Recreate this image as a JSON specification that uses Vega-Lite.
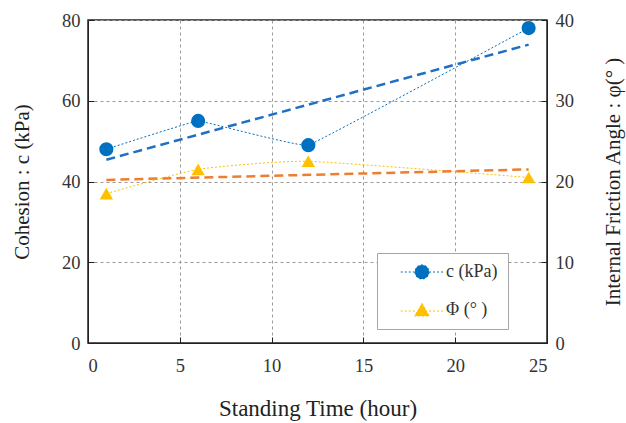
{
  "$schema": "https://vega.github.io/schema/vega-lite/v6.json",
  "width": 459,
  "height": 323,
  "autosize": {"type": "none"},
  "padding": {"left": 88, "top": 20, "right": 79, "bottom": 80},
  "background": "white",
  "config": {
    "view": {"stroke": "#222222", "strokeWidth": 1.5},
    "font": "Liberation Serif",
    "axis": {
      "labelFont": "Liberation Serif",
      "titleFont": "Liberation Serif",
      "labelFontSize": 18.5,
      "titleFontSize": 21,
      "labelColor": "#333333",
      "titleColor": "#222222",
      "titleFontWeight": "normal",
      "domainColor": "#222222",
      "tickColor": "#222222",
      "tickSize": -6,
      "gridColor": "#9a9a9a",
      "gridDash": [3, 3],
      "gridWidth": 1
    },
    "legend": {
      "labelFont": "Liberation Serif",
      "labelFontSize": 18,
      "labelColor": "#333333"
    }
  },
  "data": {
    "values": [
      {"series": "c (kPa)", "kind": "obs", "t": 1, "v": 48},
      {"series": "c (kPa)", "kind": "obs", "t": 6, "v": 55},
      {"series": "c (kPa)", "kind": "obs", "t": 12, "v": 49},
      {"series": "c (kPa)", "kind": "obs", "t": 24, "v": 78},
      {"series": "c (kPa)", "kind": "trend", "t": 1, "v": 45.4},
      {"series": "c (kPa)", "kind": "trend", "t": 24, "v": 73.9},
      {"series": "Φ (°  )", "kind": "obs", "t": 1, "v": 18.5},
      {"series": "Φ (°  )", "kind": "obs", "t": 6, "v": 21.5},
      {"series": "Φ (°  )", "kind": "obs", "t": 12, "v": 22.5},
      {"series": "Φ (°  )", "kind": "obs", "t": 24, "v": 20.5},
      {"series": "Φ (°  )", "kind": "trend", "t": 1, "v": 20.2},
      {"series": "Φ (°  )", "kind": "trend", "t": 24, "v": 21.5}
    ]
  },
  "encoding": {
    "x": {
      "field": "t",
      "type": "quantitative",
      "scale": {"domain": [0, 25], "nice": false},
      "axis": {
        "title": "Standing Time (hour)",
        "titleFontSize": 23,
        "values": [0, 5, 10, 15, 20, 25],
        "labelPadding": 19,
        "titlePadding": 23,
        "grid": true
      }
    }
  },
  "layer": [
    {
      "transform": [{"filter": "datum.series === 'c (kPa)'"}],
      "encoding": {
        "y": {
          "field": "v",
          "type": "quantitative",
          "scale": {"domain": [0, 80], "nice": false},
          "axis": {
            "title": "Cohesion : c (kPa)",
            "values": [0, 20, 40, 60, 80],
            "labelPadding": 14,
            "titlePadding": 29,
            "grid": true,
            "orient": "left"
          }
        }
      },
      "layer": [
        {
          "transform": [{"filter": "datum.kind === 'obs'"}],
          "mark": {"type": "line", "interpolate": "cardinal", "tension": 0.85, "color": "#0070C0", "strokeWidth": 1, "strokeDash": [2, 2]}
        },
        {
          "transform": [{"filter": "datum.kind === 'trend'"}],
          "mark": {"type": "line", "color": "#1F6FC5", "strokeWidth": 2.5, "strokeDash": [9, 5]}
        },
        {
          "transform": [{"filter": "datum.kind === 'obs'"}],
          "mark": {"type": "point", "shape": "circle", "filled": true, "size": 200, "opacity": 1},
          "encoding": {
            "color": {
              "field": "series",
              "type": "nominal",
              "scale": {"domain": ["c (kPa)", "Φ (°  )"], "range": ["#0070C0", "#FFC000"]},
              "legend": {
                "title": null,
                "orient": "none",
                "legendX": 289,
                "legendY": 233,
                "padding": 10,
                "rowPadding": 19,
                "symbolSize": 200,
                "symbolOpacity": 1,
                "symbolStrokeWidth": 1,
                "symbolDash": [2, 2],
                "strokeColor": "#a6a6a6",
                "fillColor": "white",
                "labelOffset": 15,
                "symbolOffset": 26,
                "encode": {
                  "symbols": {
                    "update": {
                      "shape": {"signal": "datum.value === 'c (kPa)' ? 'M-3,0L-1,0M1,0L3,0M1,0A1,1 0 1,1 -1,0A1,1 0 1,1 1,0Z' : 'M-3,0.15L-1,0.15M1,0.15L3,0.15M0,-0.95L1.05,0.85L-1.05,0.85Z'"},
                      "stroke": {"signal": "datum.value === 'c (kPa)' ? '#0070C0' : '#FFC000'"},
                      "strokeWidth": {"value": 1},
                      "strokeDash": {"value": [2, 2]}
                    }
                  }
                }
              }
            }
          }
        }
      ]
    },
    {
      "transform": [{"filter": "datum.series !== 'c (kPa)'"}],
      "encoding": {
        "y": {
          "field": "v",
          "type": "quantitative",
          "scale": {"domain": [0, 40], "nice": false},
          "axis": {
            "title": "Internal Friction Angle : φ(°  )",
            "values": [0, 10, 20, 30, 40],
            "orient": "right",
            "labelPadding": 14,
            "titlePadding": 50,
            "titleAngle": 270,
            "grid": false
          }
        }
      },
      "layer": [
        {
          "transform": [{"filter": "datum.kind === 'obs'"}],
          "mark": {"type": "line", "interpolate": "cardinal", "tension": 0.5, "color": "#FFC000", "strokeWidth": 1, "strokeDash": [2, 2]}
        },
        {
          "transform": [{"filter": "datum.kind === 'trend'"}],
          "mark": {"type": "line", "color": "#ED7D31", "strokeWidth": 2.5, "strokeDash": [9, 5]}
        },
        {
          "transform": [{"filter": "datum.kind === 'obs'"}],
          "mark": {"type": "point", "shape": "triangle-up", "filled": true, "size": 180, "opacity": 1},
          "encoding": {
            "color": {
              "field": "series",
              "type": "nominal",
              "scale": {"domain": ["c (kPa)", "Φ (°  )"], "range": ["#0070C0", "#FFC000"]}
            }
          }
        }
      ]
    }
  ],
  "resolve": {"scale": {"y": "independent"}}
}
